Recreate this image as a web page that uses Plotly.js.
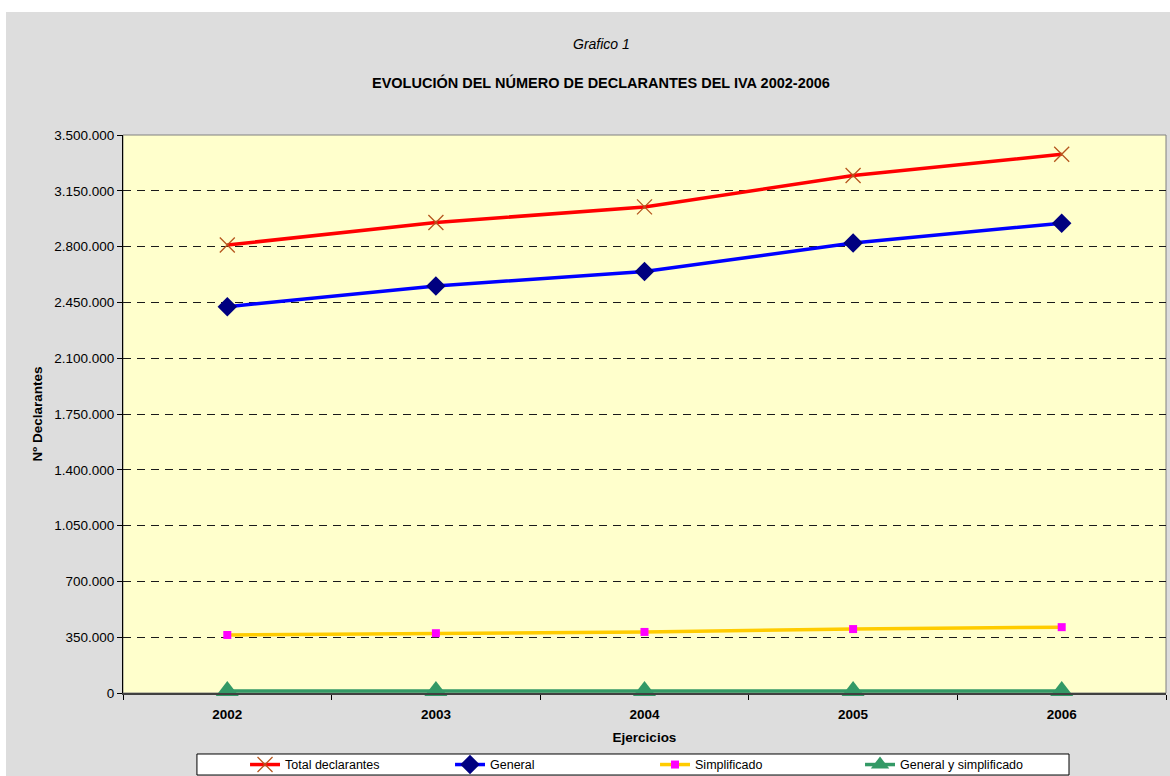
<!DOCTYPE html>
<html>
<head>
<meta charset="utf-8">
<script src="https://cdn.plot.ly/plotly-3.0.1.min.js"></script>
<style>
  html, body { margin: 0; padding: 0; background: #ffffff; }
  #chart { position: absolute; left: 6px; top: 12px; width: 1164px; height: 764px; }
</style>
</head>
<body>
<div id="chart"></div>
<script>
const years = ['2002', '2003', '2004', '2005', '2006'];
const totalDeclarantes = [2810000, 2951000, 3049000, 3246000, 3379000];
const general = [2423000, 2553000, 2644000, 2822000, 2947000];
const simplificado = [364000, 375000, 383000, 401000, 413000];
const generalYSimplificado = [12000, 12000, 12000, 12000, 12000];
const yTicks = [0, 350000, 700000, 1050000, 1400000, 1750000, 2100000, 2450000, 2800000, 3150000, 3500000];

const font = 'Liberation Sans, Arial, sans-serif';

const traces = [
  {
    x: years, y: totalDeclarantes, name: 'Total declarantes', type: 'scatter', mode: 'lines+markers',
    line: { color: '#ff0000', width: 3.5 },
    marker: { symbol: 'x-thin-open', size: 15, color: '#b5561e', line: { color: '#b5561e', width: 1.3 } }
  },
  {
    x: years, y: general, name: 'General', type: 'scatter', mode: 'lines+markers',
    line: { color: '#0000ff', width: 3.5 },
    marker: { symbol: 'diamond', size: 15, color: '#000080' }
  },
  {
    x: years, y: simplificado, name: 'Simplificado', type: 'scatter', mode: 'lines+markers',
    line: { color: '#ffcc00', width: 3.5 },
    marker: { symbol: 'square', size: 8, color: '#ff00ff' }
  },
  {
    x: years, y: generalYSimplificado, name: 'General y simplificado', type: 'scatter', mode: 'lines+markers',
    line: { color: '#339966', width: 3.5 },
    marker: { symbol: 'triangle-up', size: 20, color: '#339966' },
    cliponaxis: false
  }
];

const layout = {
  width: 1164, height: 764,
  paper_bgcolor: '#dddddd', plot_bgcolor: '#ffffcc',
  separators: ',.',
  font: { family: font, size: 13, color: '#000000' },
  margin: { l: 117, r: 4, t: 123, b: 83, autoexpand: false },
  showlegend: true,
  annotations: [
    { text: '<i>Grafico 1</i>', xref: 'paper', yref: 'paper', x: 0.4585, y: 1, yshift: 91, showarrow: false,
      font: { family: font, size: 14 }, xanchor: 'center', yanchor: 'middle' },
    { text: '<b>EVOLUCIÓN DEL NÚMERO DE DECLARANTES DEL IVA 2002-2006</b>', xref: 'paper', yref: 'paper', x: 0.4585, y: 1, yshift: 53, showarrow: false,
      font: { family: font, size: 14.5 }, xanchor: 'center', yanchor: 'middle' }
  ],
  xaxis: {
    type: 'category', tickson: 'boundaries', ticks: 'outside', ticklen: 5, tickcolor: '#000000',
    showline: true, linecolor: '#404040', linewidth: 2, showgrid: false, zeroline: false,
    tickfont: { family: font, size: 13.5, color: '#000000', weight: 'bold' },
    ticklabelstandoff: 8,
    title: { text: '<b>Ejercicios</b>', font: { family: font, size: 13.5 }, standoff: 11 },
    range: [-0.5, 4.5], fixedrange: true
  },
  yaxis: {
    range: [0, 3500000], tickvals: yTicks, tickformat: ',d',
    ticks: 'outside', ticklen: 5, tickcolor: '#000000',
    showline: true, linecolor: '#000000', linewidth: 1,
    showgrid: true, gridcolor: '#1a1a1a', griddash: '8px,6px', gridwidth: 1,
    zeroline: false,
    tickfont: { family: font, size: 13.5, color: '#000000' },
    title: { text: '<b>Nº Declarantes</b>', font: { family: font, size: 13.5 }, standoff: 8 }
  },
  legend: {
    orientation: 'h', xref: 'paper', yref: 'paper', x: 0.117, xanchor: 'left', y: -0.102, yanchor: 'top',
    bgcolor: 'rgba(0,0,0,0)', borderwidth: 0,
    font: { family: font, size: 12.5 }, entrywidth: 160, itemwidth: 30, traceorder: 'normal'
  },
  shapes: [
    { type: 'rect', xref: 'paper', yref: 'paper', x0: 0, x1: 1, y0: 0, y1: 1, line: { color: '#808080', width: 1 }, layer: 'below' },
    { type: 'rect', xref: 'paper', yref: 'paper', x0: 0.0709, x1: 0.907, y0: -0.1093, y1: -0.147, fillcolor: '#ffffff', line: { color: '#000000', width: 1 }, layer: 'below' }
  ]
};

Plotly.newPlot('chart', traces, layout, { displayModeBar: false, staticPlot: true });
</script>
</body>
</html>
